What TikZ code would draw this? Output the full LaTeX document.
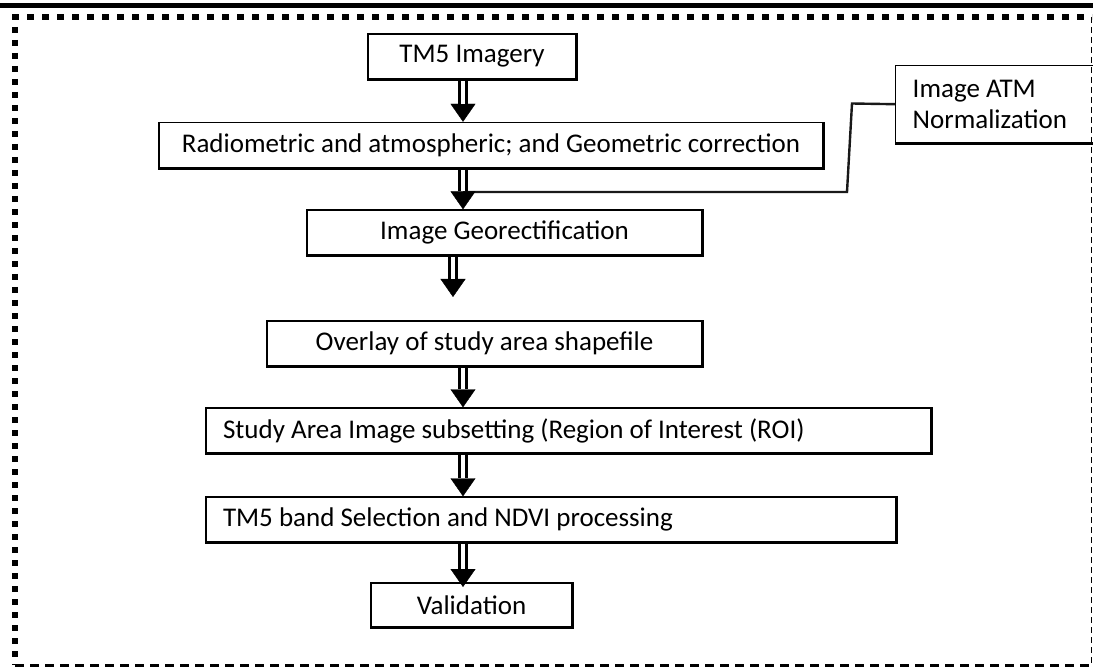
\documentclass[tikz,border=0pt]{standalone}
\usepackage{fontspec}
\setmainfont{Carlito}
\usepackage{tikz}
\usetikzlibrary{arrows.meta, positioning, calc}

\begin{document}
\begin{tikzpicture}[x=1pt, y=-1pt, font=\fontsize{27}{31}\selectfont,
    box/.style={draw, line width=1.4pt, inner sep=0pt, minimum height=45pt, align=center},
    lbox/.style={draw, line width=1.4pt, inner xsep=17pt, inner ysep=0pt, minimum height=45pt, align=flush left},
    edge/.style={line width=3pt},
    shaft/.style={draw, line width=3pt, double=white, double distance=4pt, shorten >=18pt},
    tiphead/.style={-{Triangle[length=18pt, width=25pt]}, line width=0.4pt},
    link/.style={line width=2.4pt, black!90},
  ]
  \useasboundingbox (0,0) rectangle (1093,671);

  % page frame
  \fill (0,3) rectangle (1093,8);
  \draw[line width=6pt, dash pattern=on 7pt off 8pt] (12,17) -- (1092,17);
  \draw[line width=6pt, dash pattern=on 6pt off 7pt] (15,14) -- (15,665);
  \draw[line width=3pt, dash pattern=on 9pt off 6pt] (15,665) -- (1092,665);
  \draw[line width=1.2pt, dash pattern=on 6pt off 4pt] (1091.5,17) -- (1091.5,665);

  % processing steps
  \node[box, minimum width=208pt] (tm5) at (472,56.5) {TM5 Imagery};
  \node[box, minimum width=664pt] (radio) at (491,145) {Radiometric and atmospheric; and Geometric correction};
  \node[lbox, text width=179pt, minimum height=77pt, anchor=north west] (atm) at (895,65) {Image ATM\\Normalization};
  \node[box, minimum width=395pt] (geo) at (504.5,232.5) {Image Georectification};
  \node[box, minimum width=435pt] (overlay) at (484.5,343.5) {Overlay of study area shapefile};
  \node[lbox, text width=691pt] (roi) at (568.5,430.5) {Study Area Image subsetting (Region of Interest (ROI)};
  \node[lbox, text width=656pt] (ndvi) at (551,519.5) {TM5 band Selection and NDVI processing};
  \node[box, minimum width=201pt, minimum height=44pt] (valid) at (471.5,605) {Validation};

  \coordinate (ax) at (463,0);
  \coordinate (ax2) at (453,0);
  \coordinate (gap) at (453,297);
  \coordinate (dip) at (463,587);
  \coordinate (bend1) at (852,103.5);
  \coordinate (bend2) at (847,192);
  \coordinate (join) at (463,192);

  % normalization feeds in
  \draw[link] (atm.west) -- (bend1) -- (bend2) -- (join);

  % double arrows
  \foreach \a/\b in {tm5/radio, radio/geo, overlay/roi, roi/ndvi} {
    \draw[tiphead] (\a.south -| ax) -- (\b.north -| ax);
    \draw[shaft] (\a.south -| ax) -- (\b.north -| ax);
  }
  \draw[tiphead] (geo.south -| ax2) -- (gap);
  \draw[shaft] (geo.south -| ax2) -- (gap);
  \draw[tiphead] (ndvi.south -| ax) -- (dip);
  \draw[shaft] (ndvi.south -| ax) -- (dip);

  % heavier bottom and right edges
  \foreach \n in {tm5, radio, atm, geo, overlay, roi, ndvi, valid}
    \draw[edge] (\n.south west) -- (\n.south east) -- (\n.north east);
\end{tikzpicture}
\end{document}
